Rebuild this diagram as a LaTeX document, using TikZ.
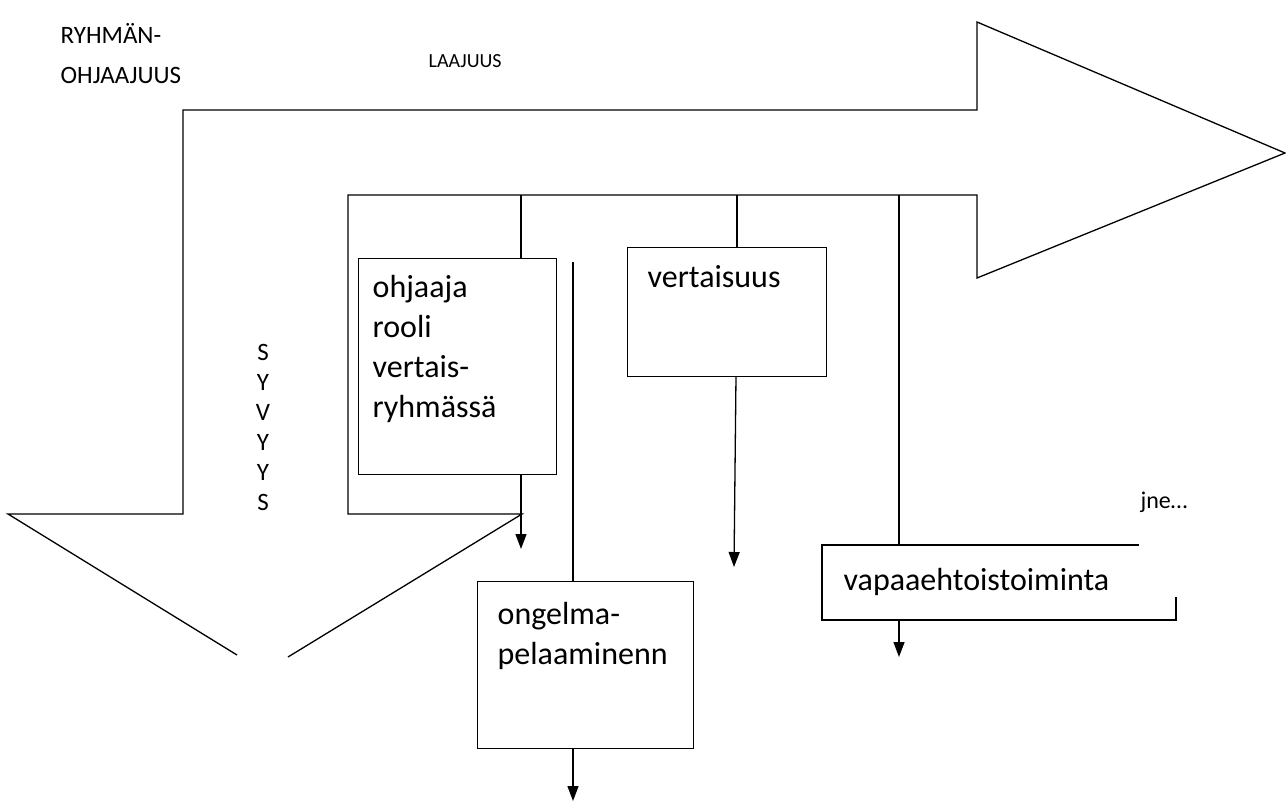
\documentclass[tikz,border=0pt]{standalone}
\usepackage{fontspec}
\setmainfont{Carlito}
\usetikzlibrary{arrows.meta}
\begin{document}
\begin{tikzpicture}[x=1pt,y=-1pt,
  every path/.style={line width=1.3pt},
  txt/.style={anchor=base west,inner sep=0pt,align=left,font=\fontsize{32}{40}\selectfont},
  small/.style={txt,font=\fontsize{25}{40}\selectfont},
  boxnode/.style={draw,line width=1.3pt,anchor=north west,inner sep=0pt},
  arr/.style={-{Triangle[width=11pt,length=15pt]},line width=1.3pt}]
\useasboundingbox (0,0) rectangle (1286,801);
% big bent arrow
\path[draw,line width=1.3pt,line join=miter]
  (237,655) -- (8,514) -- (183,514) -- (183,110) -- (977,110) -- (977,22)
  -- (1285,153) -- (977,278) -- (977,195) -- (348,195) -- (348,514) -- (522,514) -- (288,657);
% titles (multi-line nodes: base = last line)
\node[small] (title) at (60,83) {RYHMÄN-\\OHJAAJUUS};
\node[txt,font=\fontsize{20}{24}\selectfont] (laaj) at (428,67) {LAAJUUS};
\node[txt,align=center,anchor=base,font=\fontsize{25}{30}\selectfont] (syv) at (263,510) {S\\Y\\V\\Y\\Y\\S};
% boxes
\node[boxnode,minimum width=198pt,minimum height=216pt] (b1) at (358,258) {};
\node[txt] (t1) at (372,417) {ohjaaja\\rooli\\vertais-\\ryhmässä};
\node[boxnode,minimum width=199pt,minimum height=129pt] (b2) at (627,247) {};
\node[txt] (t2) at (647,287) {vertaisuus};
\node[boxnode,minimum width=216pt,minimum height=167pt] (b3) at (477,581) {};
\node[txt] (t3) at (497,664) {ongelma-\\pelaaminenn};
% partial box vapaaehtoistoiminta
\coordinate (v1) at (1139,545);
\coordinate (v2) at (822,545);
\coordinate (v3) at (822,620);
\coordinate (v4) at (1176,620);
\coordinate (v5) at (1176,597);
\draw[line join=miter] (v1) -- (v2) -- (v3) -- (v4) -- (v5);
\node[txt] (t4) at (843,590) {vapaaehtoistoiminta};
\node[txt,font=\fontsize{24}{30}\selectfont] (jne) at (1140,508) {jne…};
% connectors
\coordinate (c1) at (521,195);
\coordinate (c2) at (737,195);
\coordinate (c3) at (899,195);
\coordinate (c4) at (573,262);
\coordinate (e1) at (521,549);
\coordinate (e2) at (734,567);
\coordinate (e3) at (899,657);
\coordinate (e4) at (573,801);
\draw (c1) -- (c1 |- b1.north);
\draw (c2) -- (c2 |- b2.north);
\draw (c3) -- (c3 |- v2);
\draw (c4) -- (c4 |- b3.north);
\draw[arr] (e1 |- b1.south) -- (e1);
\draw[arr] (736,376) -- (e2);
\draw[arr] (e3 |- v3) -- (e3);
\draw[arr] (e4 |- b3.south) -- (e4);
\end{tikzpicture}
\end{document}
